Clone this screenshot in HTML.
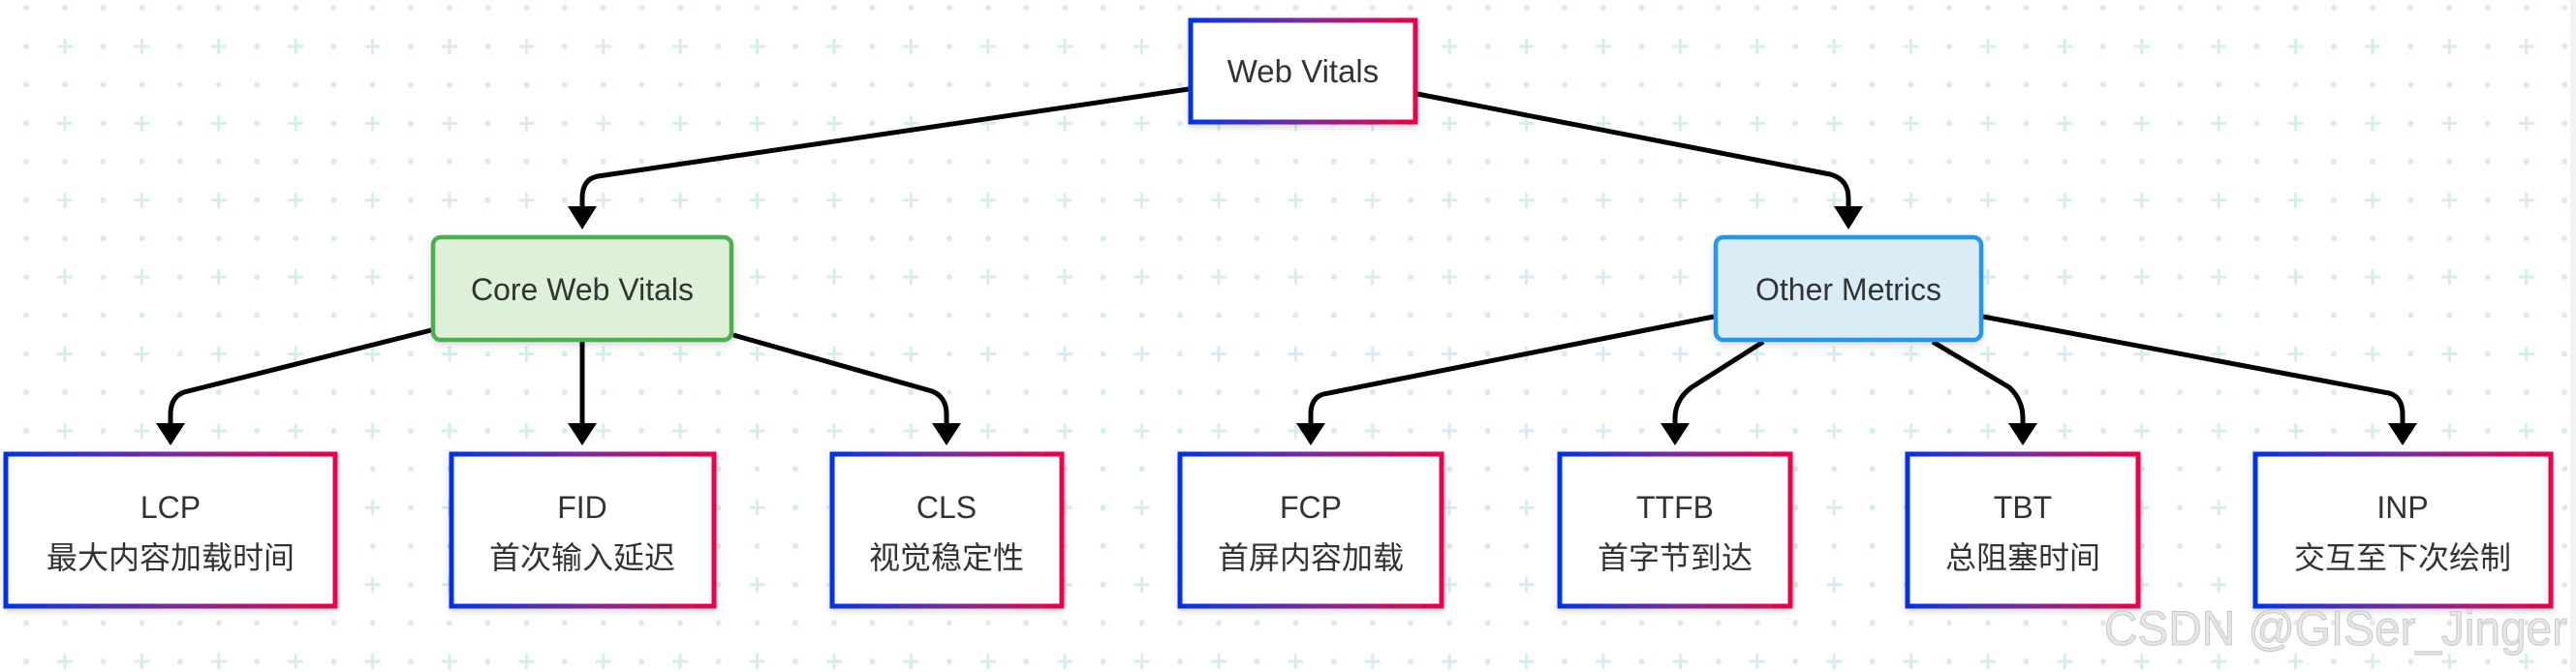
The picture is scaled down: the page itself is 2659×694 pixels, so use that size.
<!DOCTYPE html>
<html><head><meta charset="utf-8"><style>
html,body{margin:0;padding:0;background:#fff;}
body{width:2659px;height:694px;overflow:hidden;position:relative;}
svg{position:absolute;left:0;top:0;}
</style></head><body>
<svg width="2659" height="694" viewBox="0 0 2659 694" xmlns="http://www.w3.org/2000/svg">
<defs>
<pattern id="bg" x="27" y="8" width="79.4" height="79.4" patternUnits="userSpaceOnUse">
<circle cx="0" cy="0" r="3" fill="#d6ecee"/>
<circle cx="40" cy="0" r="3" fill="#d6ecee"/>
<circle cx="0" cy="40" r="3" fill="#d6ecee"/>
<path d="M40 32v16M32 40h16" stroke="#d6ecee" stroke-width="3"/>
<circle cx="79.4" cy="0" r="3" fill="#d6ecee"/>
<circle cx="0" cy="79.4" r="3" fill="#d6ecee"/>
<circle cx="79.4" cy="79.4" r="3" fill="#d6ecee"/>
<circle cx="40" cy="79.4" r="3" fill="#d6ecee"/>
<circle cx="79.4" cy="40" r="3" fill="#d6ecee"/>
</pattern>
<linearGradient id="g" x1="0" y1="0" x2="1" y2="0">
<stop offset="0" stop-color="#0033ee"/><stop offset="0.5" stop-color="#7a2aa0"/><stop offset="1" stop-color="#f00044"/>
</linearGradient>
<filter id="sh" x="-10%" y="-10%" width="120%" height="130%"><feDropShadow dx="0" dy="3" stdDeviation="4" flood-color="#000" flood-opacity="0.15"/></filter>
</defs>
<rect width="2659" height="694" fill="url(#bg)"/>
<rect x="2653" y="0" width="6" height="694" fill="#f2f2f2"/>

<g fill="none" stroke="#000" stroke-width="5">
<path d="M1227 92 L617 182 Q601 185 601 205 L601 213"/>
<path d="M1463 97 L1889 180 Q1908 185 1908 205 L1908 213"/>
<path d="M445 341 L190 405 Q176 410 176 428 L176 437"/>
<path d="M601 353 L601 437"/>
<path d="M757 346 L962 404 Q977 410 977 428 L977 437"/>
<path d="M1769 327 L1366 407 Q1353 411 1353 428 L1353 437"/>
<path d="M1820 353 L1746 400 Q1729 413 1729 432 L1729 437"/>
<path d="M1995 353 L2074 400 Q2088 413 2088 432 L2088 437"/>
<path d="M2047 327 L2466 406 Q2480 410 2480 428 L2480 437"/>
</g>
<g fill="#000">
<path d="M586 213 L616 213 L601 237 Z"/>
<path d="M1893 213 L1923 213 L1908 237 Z"/>
<path d="M161 437 L191 437 L176 460 Z"/>
<path d="M586 437 L616 437 L601 460 Z"/>
<path d="M962 437 L992 437 L977 460 Z"/>
<path d="M1338 437 L1368 437 L1353 460 Z"/>
<path d="M1714 437 L1744 437 L1729 460 Z"/>
<path d="M2073 437 L2103 437 L2088 460 Z"/>
<path d="M2465 437 L2495 437 L2480 460 Z"/>
</g>

<g font-family="Liberation Sans, Noto Sans CJK SC, sans-serif" fill="#333" text-anchor="middle">
<rect x="1229" y="21" width="232" height="105" fill="#fff" stroke="url(#g)" stroke-width="5" filter="url(#sh)"/>
<text x="1345" y="85" font-size="33">Web Vitals</text>

<rect x="447" y="245" width="308" height="106" rx="8" fill="#dff0d8" stroke="#4caf50" stroke-width="4.5" filter="url(#sh)"/>
<text x="601" y="310" font-size="32">Core Web Vitals</text>
<rect x="1771" y="245" width="274" height="106" rx="8" fill="#daecf6" stroke="#2196f3" stroke-width="4.5" filter="url(#sh)"/>
<text x="1908" y="310" font-size="32">Other Metrics</text>

<g font-size="32">
<rect x="6" y="469" width="340" height="157" fill="#fff" stroke="url(#g)" stroke-width="5" filter="url(#sh)"/>
<text x="176" y="535">LCP</text><text x="176" y="587">最大内容加载时间</text>
<rect x="466" y="469" width="271" height="157" fill="#fff" stroke="url(#g)" stroke-width="5" filter="url(#sh)"/>
<text x="601" y="535">FID</text><text x="601" y="587">首次输入延迟</text>
<rect x="859" y="469" width="237" height="157" fill="#fff" stroke="url(#g)" stroke-width="5" filter="url(#sh)"/>
<text x="977" y="535">CLS</text><text x="977" y="587">视觉稳定性</text>
<rect x="1218" y="469" width="270" height="157" fill="#fff" stroke="url(#g)" stroke-width="5" filter="url(#sh)"/>
<text x="1353" y="535">FCP</text><text x="1353" y="587">首屏内容加载</text>
<rect x="1610" y="469" width="238" height="157" fill="#fff" stroke="url(#g)" stroke-width="5" filter="url(#sh)"/>
<text x="1729" y="535">TTFB</text><text x="1729" y="587">首字节到达</text>
<rect x="1969" y="469" width="238" height="157" fill="#fff" stroke="url(#g)" stroke-width="5" filter="url(#sh)"/>
<text x="2088" y="535">TBT</text><text x="2088" y="587">总阻塞时间</text>
<rect x="2328" y="469" width="305" height="157" fill="#fff" stroke="url(#g)" stroke-width="5" filter="url(#sh)"/>
<text x="2480" y="535">INP</text><text x="2480" y="587">交互至下次绘制</text>
</g>
</g>
<text x="2172" y="666" font-family="Liberation Sans, sans-serif" font-size="50" fill="#e6e6e6" stroke="#c8c8c8" stroke-width="1" textLength="478" lengthAdjust="spacingAndGlyphs">CSDN @GISer_Jinger</text>
</svg>
</body></html>
